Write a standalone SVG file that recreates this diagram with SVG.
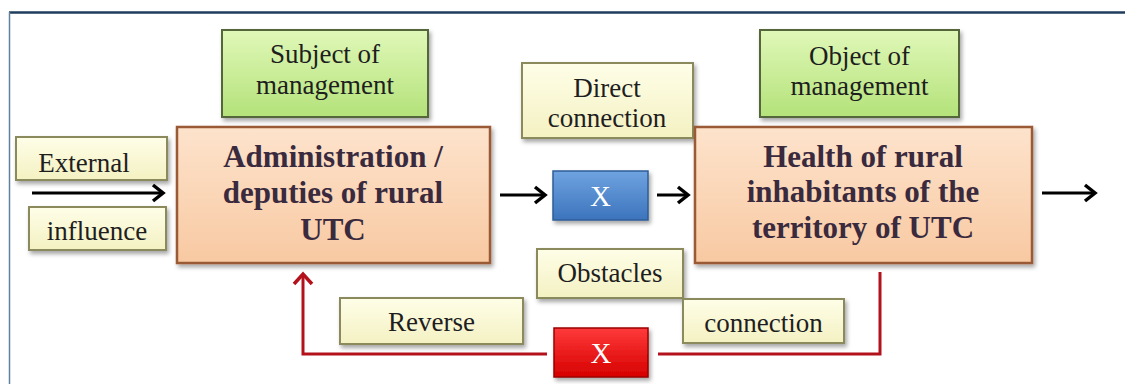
<svg xmlns="http://www.w3.org/2000/svg" width="1125" height="384" viewBox="0 0 1125 384">
<style>
.lbl{font-family:"Liberation Serif","Times New Roman",serif;font-size:27px;fill:#1e1e1e;text-anchor:middle}
.big{font-family:"Liberation Serif","Times New Roman",serif;font-size:31px;font-weight:bold;fill:#3a2a3e;text-anchor:middle}
.x{font-family:"Liberation Serif","Times New Roman",serif;font-size:29px;fill:#ffffff;text-anchor:middle}
.green{fill:url(#gGreen);stroke:#55663a;stroke-width:2}
.yellow{fill:url(#gYellow);stroke:#8a8a5c;stroke-width:2}
.peach{fill:url(#gPeach);stroke:#9a5a36;stroke-width:2.5}
.blue{fill:url(#gBlue);stroke:#2e5d96;stroke-width:1.5}
.red{fill:url(#gRed);stroke:#9a0000;stroke-width:1.5}
.blk{fill:none;stroke:#000;stroke-width:3;marker-end:url(#ah)}
.rline{fill:none;stroke:#b3121c;stroke-width:3}
</style>
<defs>
<linearGradient id="gGreen" x1="0" y1="0" x2="0" y2="1"><stop offset="0" stop-color="#e0f8b8"/><stop offset="1" stop-color="#b4e27a"/></linearGradient>
<linearGradient id="gYellow" x1="0" y1="0" x2="0" y2="1"><stop offset="0" stop-color="#fefee8"/><stop offset="1" stop-color="#f4f1c2"/></linearGradient>
<linearGradient id="gPeach" x1="0" y1="0" x2="0" y2="1"><stop offset="0" stop-color="#fde3cc"/><stop offset="1" stop-color="#f8c9a2"/></linearGradient>
<linearGradient id="gBlue" x1="0" y1="0" x2="0" y2="1"><stop offset="0" stop-color="#6fa3e0"/><stop offset="1" stop-color="#3c74bd"/></linearGradient>
<linearGradient id="gRed" x1="0" y1="0" x2="0" y2="1"><stop offset="0" stop-color="#ff3a3a"/><stop offset="1" stop-color="#d60000"/></linearGradient>
<filter id="sh" x="-10%" y="-10%" width="125%" height="135%"><feDropShadow dx="2" dy="3" stdDeviation="2" flood-color="#000" flood-opacity="0.35"/></filter>
<marker id="ah" markerUnits="userSpaceOnUse" markerWidth="14" markerHeight="20" refX="11" refY="9" orient="auto" overflow="visible"><path d="M1,1 L11,9 L1,17" fill="none" stroke="#000" stroke-width="3.5" stroke-linejoin="miter"/></marker>
<marker id="ahr" markerUnits="userSpaceOnUse" markerWidth="14" markerHeight="22" refX="11" refY="10" orient="auto" overflow="visible"><path d="M1,1 L11,10 L1,19" fill="none" stroke="#b3121c" stroke-width="3.5"/></marker>
</defs>
<rect width="1125" height="384" fill="#ffffff"/>
<line x1="9" y1="12.5" x2="1125" y2="12.5" stroke="#1e3d5c" stroke-width="2.5"/>
<line x1="9.5" y1="12" x2="9.5" y2="384" stroke="#6080a0" stroke-width="1.5"/>
<g id="connectors">
<path class="blk" d="M32,193 L163,193"/>
<path class="blk" d="M500,195 L545,195"/>
<path class="blk" d="M657,195 L688,195"/>
<path class="blk" d="M1042,193 L1095,193"/>
<path class="rline" d="M880,272 L880,354 L658,354"/>
<path class="rline" d="M547,354 L303,354 L303,274" style="marker-end:url(#ahr)"/>
</g>
<g id="subject">
<rect class="green" x="222" y="30" width="206" height="87" filter="url(#sh)"/>
<text class="lbl" x="325" y="63">Subject of</text>
<text class="lbl" x="325" y="94">management</text>
</g>
<g id="object">
<rect class="green" x="760" y="30" width="199" height="87" filter="url(#sh)"/>
<text class="lbl" x="859.5" y="65">Object of</text>
<text class="lbl" x="859.5" y="95">management</text>
</g>
<g id="external">
<rect class="yellow" x="16" y="137" width="151" height="43" filter="url(#sh)"/>
<text class="lbl" x="84" y="172">External</text>
</g>
<g id="influence">
<rect class="yellow" x="29" y="207" width="137" height="43" filter="url(#sh)"/>
<text class="lbl" x="97" y="240">influence</text>
</g>
<g id="administration">
<rect class="peach" x="177" y="127" width="313" height="136" filter="url(#sh)"/>
<text class="big" x="333" y="167">Administration /</text>
<text class="big" x="333" y="203">deputies of rural</text>
<text class="big" x="333" y="240">UTC</text>
</g>
<g id="direct">
<rect class="yellow" x="522" y="63" width="171" height="75" filter="url(#sh)"/>
<text class="lbl" x="607" y="97">Direct</text>
<text class="lbl" x="607" y="127">connection</text>
</g>
<g id="xblue">
<rect class="blue" x="553" y="171" width="95" height="49" filter="url(#sh)"/>
<text class="x" x="600.5" y="206">X</text>
</g>
<g id="health">
<rect class="peach" x="695" y="127" width="337" height="136" filter="url(#sh)"/>
<text class="big" x="863" y="167">Health of rural</text>
<text class="big" x="863" y="202">inhabitants of the</text>
<text class="big" x="863" y="238">territory of UTC</text>
</g>
<g id="obstacles">
<rect class="yellow" x="537" y="249" width="146" height="49" filter="url(#sh)"/>
<text class="lbl" x="610" y="282">Obstacles</text>
</g>
<g id="reverse">
<rect class="yellow" x="340" y="298" width="183" height="46" filter="url(#sh)"/>
<text class="lbl" x="431.5" y="331">Reverse</text>
</g>
<g id="connection">
<rect class="yellow" x="683" y="299" width="161" height="44" filter="url(#sh)"/>
<text class="lbl" x="763.5" y="332">connection</text>
</g>
<g id="xred">
<rect class="red" x="554" y="328" width="94" height="49" filter="url(#sh)"/>
<text class="x" x="601" y="363">X</text>
</g>
</svg>
